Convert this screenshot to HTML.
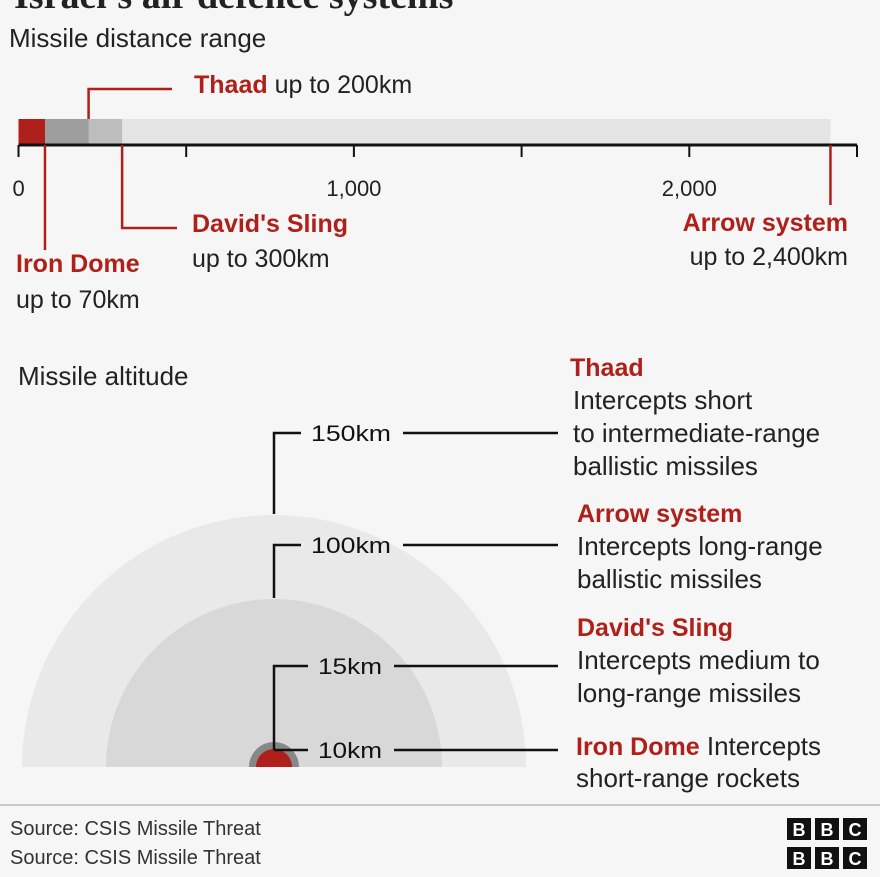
<!DOCTYPE html>
<html><head><meta charset="utf-8"><style>
body{margin:0;width:880px;height:877px;background:#f6f6f6;overflow:hidden;font-family:"Liberation Sans",sans-serif}
svg{display:block}
text{font-family:"Liberation Sans",sans-serif}
</style></head><body>
<svg width="880" height="877">
<text x="14" y="8" font-family="Liberation Serif" font-size="38" font-weight="bold" fill="#222" style="font-family:'Liberation Serif',serif">Israel's air defence systems</text>
<text x="9" y="47" font-size="26" fill="#222">Missile distance range</text>
<g id="range"></g>
<text x="18" y="385" font-size="26" fill="#222">Missile altitude</text>
<g id="alt"></g>
<line x1="0" y1="805" x2="880" y2="805" stroke="#999" stroke-width="1"/>
<text x="10" y="835" font-size="20" fill="#333">Source: CSIS Missile Threat</text>
<text x="10" y="864" font-size="20" fill="#333">Source: CSIS Missile Threat</text>
<g id="logos"></g>
</svg>
<script>
const NS="http://www.w3.org/2000/svg";
function mk(p,t,a,txt){const e=document.createElementNS(NS,t);for(const k in a)e.setAttribute(k,a[k]);if(txt!=null)e.textContent=txt;p.appendChild(e);return e;}
// distance data
const rangeSystems=["Arrow system","David's Sling","Thaad","Iron Dome"];
const rangeValues=[2400,300,200,70];
const rangeColors=["#e4e4e4","#bdbdbd","#9e9e9e","#b0201a"];
const rangeTicks=[0,500,1000,1500,2000,2500];
const rangeTickLabels=["0","","1,000","","2,000",""];
const x=v=>18.5+v*(838.5/2500);
const g=document.getElementById('range');
rangeValues.forEach((v,i)=>{const r=mk(g,'rect',{x:x(0),y:119,width:x(v)-x(0)+(v>=2400?7:3),height:26,fill:rangeColors[i]});

});
const ax=mk(g,'line',{x1:x(0),y1:145,x2:x(2500),y2:145,stroke:'#111','stroke-width':3});


rangeTicks.forEach((t,i)=>{const l=mk(g,'line',{x1:x(t),y1:145,x2:x(t),y2:157,stroke:'#111','stroke-width':2});


if(rangeTickLabels[i]){const tx=mk(g,'text',{x:x(t),y:196,'font-size':22,fill:'#222','text-anchor':t==0?'start':'middle'},rangeTickLabels[i]);if(t==0)tx.setAttribute('x',x(t)-6);

}});
const red="#b0201a";
function ann(pts,name){const p=mk(g,'polyline',{points:pts.map(q=>q.join(',')).join(' '),fill:'none',stroke:red,'stroke-width':2.5});

}
ann([[x(200)+3,119],[x(200)+3,89],[172,89]],'thaad-leader');
ann([[x(70)+3,145],[x(70)+3,250]],'iron-dome-leader');
ann([[x(300)+3,145],[x(300)+3,228],[177,228]],'davids-sling-leader');
ann([[x(2400)+7,145],[x(2400)+7,205]],'arrow-leader');
function lab(xx,y,a,b,name,anchor){const t=mk(g,'text',{x:xx,y:y,'font-size':25,fill:'#222','text-anchor':anchor||'start'});


mk(t,'tspan',{fill:red,'font-weight':'bold'},a);if(b)mk(t,'tspan',{},b);return t;}
lab(194,93,'Thaad',' up to 200km','thaad-label');
lab(192,232,"David's Sling",null,'davids-label');
lab(192,267,'','up to 300km','davids-range');
lab(16,272,'Iron Dome',null,'iron-label');
lab(16,308,'','up to 70km','iron-range');
lab(848,231,'Arrow system',null,'arrow-label','end');
lab(848,265,'','up to 2,400km','arrow-range','end');
// altitude
const altLabels=["150km","100km","15km","10km"];
const altY=[433,545,666,750];
const a=document.getElementById('alt');
const cx=274,by=767;
[[252,'#e9e9e9'],[168,'#d8d8d8'],[25,'#888'],[18,red]].forEach((c,i)=>{const p=mk(a,'path',{d:`M${cx-c[0]},${by} A${c[0]},${c[0]} 0 0 1 ${cx+c[0]},${by} Z`,fill:c[1]});

});
const bot=[514,598,750,750];
altLabels.forEach((L,i)=>{const y=altY[i];const tw=i<2?80:64;const tx=i<2?311:318;
const p=mk(a,'polyline',{points:`${cx},${i==3?y:bot[i]} ${cx},${y} ${tx-10},${y}`,fill:'none',stroke:'#111','stroke-width':2.5});


const t=mk(a,'text',{x:tx,y:y+8,'font-size':22,fill:'#111',textLength:tw,lengthAdjust:'spacingAndGlyphs'},L);


const l=mk(a,'line',{x1:tx+tw+12,y1:y,x2:558,y2:y,stroke:'#111','stroke-width':2.5});

});
const desc=[[570,376,"Thaad",["Intercepts short","to intermediate-range","ballistic missiles"]],[577,522,"Arrow system",["Intercepts long-range","ballistic missiles"]],[577,636,"David's Sling",["Intercepts medium to","long-range missiles"]]];
desc.forEach(d=>{const t=mk(a,'text',{x:d[0],y:d[1],'font-size':25,fill:red,'font-weight':'bold'},d[2]);


d[3].forEach((s,j)=>{const u=mk(a,'text',{x:d[0]+3-(d[0]==577?3:0),y:d[1]+33*(j+1),'font-size':26,fill:'#222'},s);

});});
const ti=mk(a,'text',{x:576,y:755,'font-size':26,fill:'#222'});


mk(ti,'tspan',{fill:red,'font-weight':'bold','font-size':25},'Iron Dome');mk(ti,'tspan',{},' Intercepts');
const ti2=mk(a,'text',{x:576,y:787,'font-size':26,fill:'#222'},'short-range rockets');


// logos
const lg=document.getElementById('logos');
[818,847].forEach((y,k)=>{"BBC".split('').forEach((c,i)=>{const bx=787+i*28;
mk(lg,'rect',{x:bx,y:y,width:24,height:22,fill:'#111'});
const t=mk(lg,'text',{x:bx+12,y:y+18,'font-size':18,'font-weight':'bold',fill:'#fff','text-anchor':'middle'},c);

});});
</script>
</body></html>
